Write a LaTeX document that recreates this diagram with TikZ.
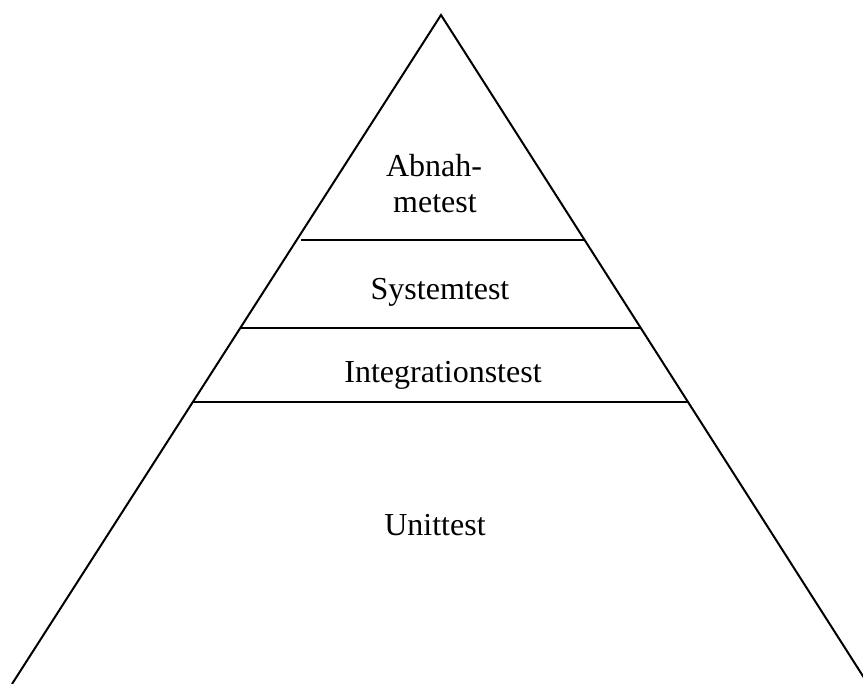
\documentclass[tikz,border=0pt]{standalone}
\usepackage{fontspec}
\setmainfont{Liberation Serif}
\begin{document}
\begin{tikzpicture}[x=0.5pt,y=-0.5pt,
  edge/.style={line width=1pt,line join=miter},
  level/.style={line width=1pt},
  label/.style={anchor=base,inner sep=0pt,font=\fontsize{16}{21}\selectfont,align=center}]
  \useasboundingbox (0,0) rectangle (863,684);
  % pyramid outline (open at the bottom)
  \draw[edge] (12,684) -- (441,15) -- (868,684);
  % level separators
  \draw[level] (301,240) -- (584,240);
  \draw[level] (240,328) -- (641,328);
  \draw[level] (193,402) -- (689,402);
  % level labels
  \node[label] (abn1) at (434,177) {Abnah-};
  \node[label] (abn2) at (435,213) {metest};
  \node[label] (sys) at (440,300) {Systemtest};
  \node[label] (int) at (443,383) {Integrationstest};
  \node[label] (unit) at (435,536) {Unittest};
\end{tikzpicture}
\end{document}
